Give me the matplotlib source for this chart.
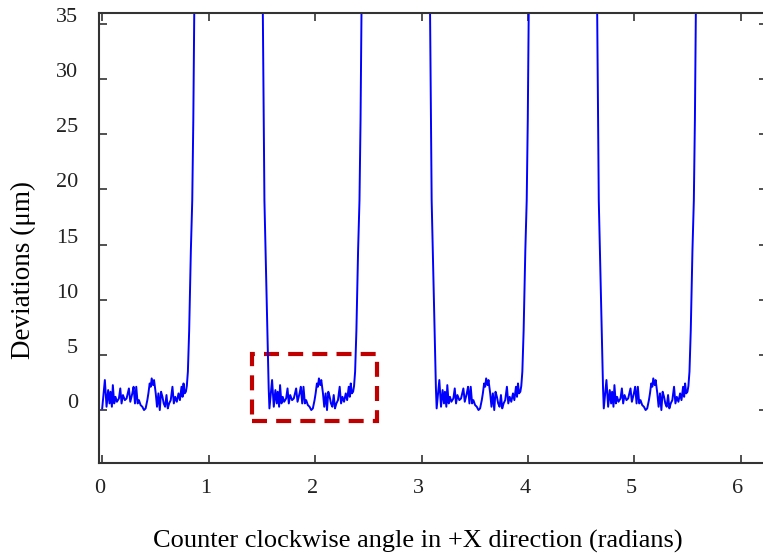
import matplotlib
matplotlib.use("Agg")
import matplotlib.pyplot as plt
import matplotlib.transforms as mtransforms
from matplotlib.patches import Rectangle

plt.rcParams['font.family'] = ['Liberation Serif', 'DejaVu Serif']

# start angle of each low (measured) segment, radians
seg_starts = [0.0, 1.571, 3.142, 4.712]

# deviation pattern inside one low segment (offset from segment start)
low_dx = [0.000, 0.025, 0.041, 0.056, 0.069, 0.078, 0.091, 0.100, 0.113, 0.125,
          0.138, 0.157, 0.170, 0.182, 0.195, 0.213, 0.229, 0.251, 0.264, 0.283,
          0.295, 0.308, 0.320, 0.333, 0.345, 0.361, 0.377, 0.393, 0.408, 0.424,
          0.434, 0.446, 0.456, 0.465, 0.478, 0.487, 0.503, 0.515, 0.528, 0.541,
          0.553, 0.566, 0.578, 0.591, 0.604, 0.616, 0.629, 0.644, 0.660, 0.673,
          0.686, 0.701, 0.717, 0.730, 0.745, 0.755, 0.764, 0.774, 0.786, 0.795]
low_dev = [0.17, 2.74, 0.32, 1.83, 0.62, 1.68, 0.32, 2.28, 0.62, 1.22,
           0.77, 1.07, 1.98, 0.62, 1.38, 0.92, 1.07, 1.98, 0.77, 1.53,
           2.13, 0.62, 2.13, 0.62, 0.92, 0.47, 0.32, 0.02, 0.17, 0.92,
           1.53, 2.43, 2.13, 2.89, 2.28, 2.74, 1.53, 0.32, 1.53, 0.02,
           1.68, 1.22, 0.62, 0.32, 1.38, 0.17, 0.62, 0.92, 2.13, 0.62,
           1.22, 0.77, 1.53, 0.92, 2.13, 1.22, 2.43, 1.53, 1.68, 2.20]

# steep rise after a low segment and steep fall before one (off-scale above 36)
rise_dx = [0.805, 0.817, 0.833, 0.846, 0.856, 0.865, 0.880]
rise_dev = [3.5, 7.2, 14.5, 19.0, 26.3, 36.0, 55.0]
fall_dx = [-0.075, -0.062, -0.053, -0.047, -0.015, -0.007]
fall_dev = [55.0, 36.0, 26.3, 19.0, 5.2, 2.0]
end_angle = 6.30
end_dev = 55.0

# red dashed highlight box (angle, deviation)
box_x = [1.41, 2.58]
box_y = [-1.0, 5.1]

xs, ys = [], []
for i, s in enumerate(seg_starts):
    if i > 0:
        xs += [s + d for d in fall_dx]
        ys += fall_dev
    xs += [s + d for d in low_dx]
    ys += low_dev
    xs += [s + d for d in rise_dx]
    ys += rise_dev
xs.append(end_angle)
ys.append(end_dev)

fig = plt.figure(figsize=(7.63, 5.57), dpi=100)
ax = fig.add_axes([99 / 763, 1 - 463.3 / 557, (767.5 - 99) / 763, (463.3 - 12.7) / 557])

ax.plot(xs, ys, color="#0000ff", linewidth=1.4)

ax.add_patch(Rectangle((box_x[0], box_y[0]), box_x[1] - box_x[0], box_y[1] - box_y[0],
                       fill=False, edgecolor="#c00000", linewidth=3.0,
                       linestyle=(0, (3.6, 2.2))))

ax.set_xlim(-0.03, 6.25)
ax.set_ylim(-4.8, 36)
ax.set_xticks(range(0, 7))
ax.set_yticks(range(0, 36, 5))

ax.tick_params(direction="in", length=5.5, width=1.1, colors="#222222",
               top=True, right=True, labelsize=16)
ax.tick_params(axis="y", pad=15)
ax.tick_params(axis="x", pad=11)
for sp in ax.spines.values():
    sp.set_linewidth(1.5)
    sp.set_color("#333333")

# y labels sit a little above their ticks, x labels a little left
up = mtransforms.ScaledTranslation(0, 9 / 100, fig.dpi_scale_trans)
for lab in ax.get_yticklabels():
    lab.set_transform(lab.get_transform() + up)
left = mtransforms.ScaledTranslation(-3 / 100, 0, fig.dpi_scale_trans)
for lab in ax.get_xticklabels():
    lab.set_transform(lab.get_transform() + left)

fig.text(418 / 763, 1 - 541 / 557, "Counter clockwise angle in +X direction (radians)",
         ha="center", va="center", fontsize=19)
fig.text(23 / 763, 1 - 270 / 557, "Deviations (μm)", rotation=90,
         ha="center", va="center", fontsize=19.5)

fig.savefig("out.png", dpi=100)
